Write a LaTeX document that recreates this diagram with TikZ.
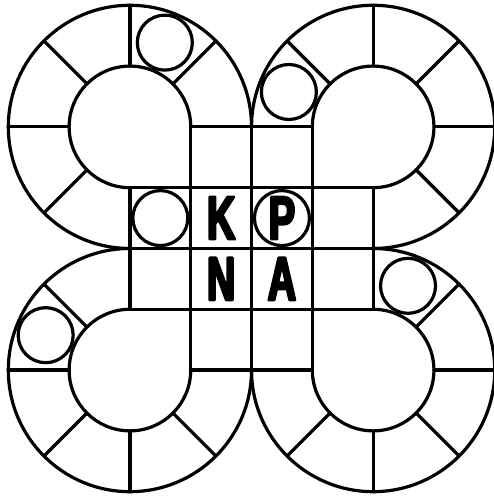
\documentclass[tikz,border=0pt]{standalone}
\usepackage{fontspec}
\newfontfamily\logofont[FakeStretch=0.64,FakeBold=4]{Liberation Sans}
\begin{document}
\begin{tikzpicture}[x=60.8pt,y=60.8pt,
  line width=3.2pt, line cap=round, line join=round,
  smallc/.style={circle, draw, line width=3.2pt, minimum size=55pt, inner sep=0pt},
  letter/.style={inner sep=0pt, font=\logofont\bfseries\fontsize{61.5pt}{61.5pt}\selectfont}]
\useasboundingbox (-4.137,-4.071) rectangle (3.988,4.087);

% central grid
\draw (-1,2) -- (1,2);
\draw (-2,1) -- (2,1);
\draw (-2,0) -- (2,0);
\draw (-2,-1) -- (2,-1);
\draw (-1,-2) -- (1,-2);
\draw (-2,-1) -- (-2,1);
\draw (-1,-2) -- (-1,2);
\draw (0,-2) -- (0,2);
\draw (1,-2) -- (1,2);
\draw (2,-1) -- (2,1);

% top-left ring
\begin{scope}[shift={(-2,2)}]
  \draw (0:1) arc[start angle=0, end angle=270, radius=1];
  \draw (0:2) arc[start angle=0, end angle=270, radius=2];
  \foreach \a in {0,45,...,270} \draw (\a:1) -- (\a:2);
  \node[smallc] (tlc) at (67.5:1.5) {};
\end{scope}

% top-right ring
\begin{scope}[shift={(2,2)}]
  \draw (180:1) arc[start angle=180, end angle=-90, radius=1];
  \draw (180:2) arc[start angle=180, end angle=-90, radius=2];
  \foreach \a in {-90,-45,...,180} \draw (\a:1) -- (\a:2);
  \node[smallc] (trc) at (157.5:1.5) {};
\end{scope}

% bottom-left ring
\begin{scope}[shift={(-2,-2)}]
  \draw (90:1) arc[start angle=90, end angle=360, radius=1];
  \draw (90:2) arc[start angle=90, end angle=360, radius=2];
  \foreach \a in {90,135,...,360} \draw (\a:1) -- (\a:2);
  \node[smallc] (blc) at (157.5:1.5) {};
\end{scope}

% bottom-right ring
\begin{scope}[shift={(2,-2)}]
  \draw (-180:1) arc[start angle=-180, end angle=90, radius=1];
  \draw (-180:2) arc[start angle=-180, end angle=90, radius=2];
  \foreach \a in {-180,-135,...,90} \draw (\a:1) -- (\a:2);
  \node[smallc] (brc) at (67.5:1.5) {};
\end{scope}

% central circles
\node[smallc] (lc) at (-1.5,0.5) {};
\node[smallc] (pc) at (0.5,0.5) {};

% letters
\node[letter] (K) at (-0.5,0.5) {K};
\node[letter] (P) at (0.5,0.5) {P};
\node[letter] (N) at (-0.5,-0.5) {N};
\node[letter] (A) at (0.5,-0.5) {A};
\end{tikzpicture}
\end{document}
